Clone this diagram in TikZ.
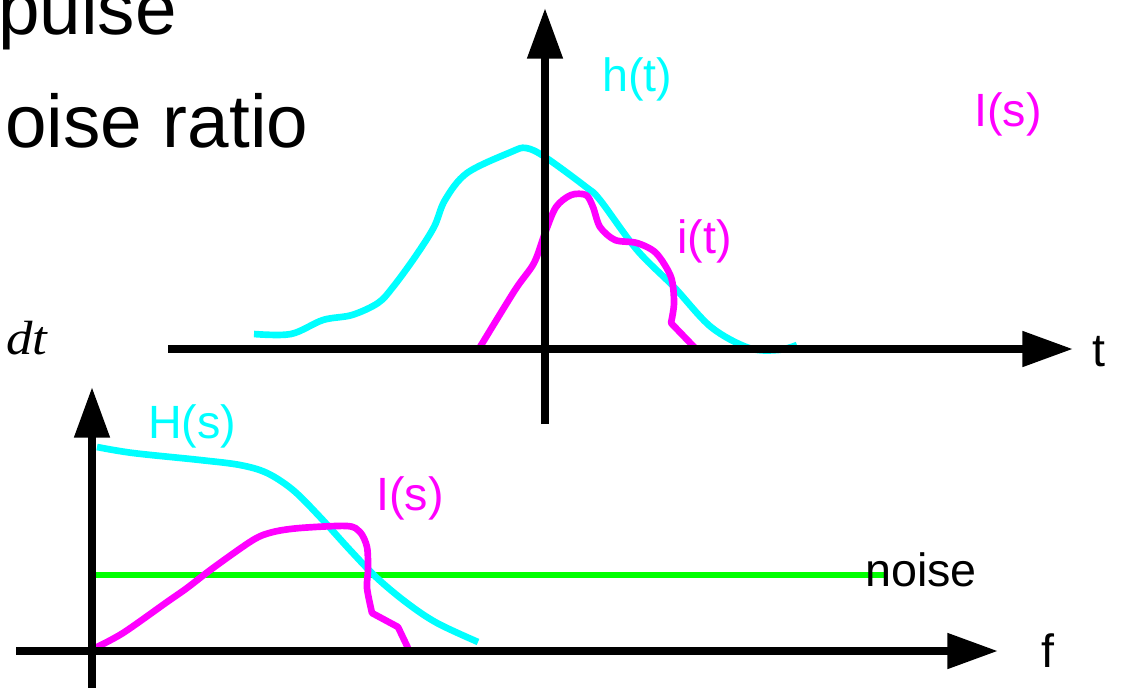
\documentclass[tikz,border=0pt]{standalone}
\usepackage{fontspec}
\setmainfont{Liberation Sans}
\newfontfamily\timesit{Liberation Serif}
\usepackage{graphicx}
\usetikzlibrary{arrows.meta}
\definecolor{cy}{RGB}{0,255,255}
\definecolor{mg}{RGB}{255,0,255}
\definecolor{gr}{RGB}{0,255,0}
\tikzset{
  axis/.style={line width=6pt,draw=black,-{Triangle[length=38pt,width=25.5pt]}},
  cycurve/.style={line width=5pt,draw=cy,line join=round},
  mgcurve/.style={line width=5pt,draw=mg,line join=round},
  lbl/.style={inner sep=0pt,anchor=base west,font=\fontsize{35}{38}\selectfont},
  ttl/.style={inner sep=0pt,anchor=base west,font=\fontsize{56}{60}\selectfont},
}
\begin{document}
\begin{tikzpicture}[x=0.75pt,y=-0.75pt]
\useasboundingbox (0,0) rectangle (1124,687);
\clip (0,0) rectangle (1124,687);
% coordinates
\coordinate (tx0) at (168,349);
\coordinate (tx1) at (1073,349);
\coordinate (ty0) at (545,424);
\coordinate (ty1) at (545,8);
\coordinate (bx0) at (16,651);
\coordinate (bx1) at (998,651);
\coordinate (by0) at (92,690);
\coordinate (by1) at (92,387);
\coordinate (n0) at (92,575);
\coordinate (n1) at (886,575);
% texts
\node[ttl] (pulse) at (-2,34) {pulse};
\node[ttl] (ratio) at (5,147) {oise ratio};
\node[inner sep=0pt,anchor=base west,font=\timesit\itshape\fontsize{36}{40}\selectfont] (dt) at (6,354) {\scalebox{1.1}[1]{dt}};
% noise line
\draw[line width=5.2pt,draw=gr] (n0) -- (n1);
% curves top
\draw[cycurve] plot[smooth,tension=0.55] coordinates {(254,334) (291,334) (323,320) (352,315) (378,303) (393,287) (415,257) (434,227) (445,200) (467,173) (511,152) (526,148) (545,157) (586,187) (600,200) (637,250) (674,287) (711,327) (749,348) (778,350) (797,345)};
\draw[mgcurve] plot[smooth,tension=0.5] coordinates {(480,347) (515,290) (534,263) (545,233) (556,207) (571,195) (586,195) (593,207) (600,227) (615,240) (637,243) (656,253) (671,277) (674,303) (671,323)} -- (697,350);
% curves bottom
\draw[cycurve] plot[smooth,tension=0.55] coordinates {(97,447) (133,453) (200,460) (240,465) (267,473) (293,490) (320,517) (350,550) (377,578) (407,603) (437,623) (478,642)};
\draw[mgcurve] plot[smooth,tension=0.5] coordinates {(95,648) (123,633) (167,602) (187,588) (213,568) (253,540) (273,532) (300,528) (347,526) (360,532) (367,547) (368,570) (367,588) (372,613)} -- (398,627) -- (408,648);
% axes
\draw[axis] (tx0) -- (tx1);
\draw[axis] (ty0) -- (ty1);
\draw[axis] (bx0) -- (bx1);
\draw[axis] (by0) -- (by1);
% labels
\node[lbl,text=cy] (ht) at (602,91) {h(t)};
\node[lbl,text=mg] (Is1) at (974,126) {I(s)};
\node[lbl,text=mg] (it) at (677,253) {i(t)};
\node[lbl] (t) at (1092,366) {t};
\node[lbl,text=cy] (Hs) at (148,438) {H(s)};
\node[lbl,text=mg] (Is2) at (376,510) {I(s)};
\node[lbl] (noise) at (865,586) {noise};
\node[lbl] (f) at (1041,667) {f};
\end{tikzpicture}
\end{document}
